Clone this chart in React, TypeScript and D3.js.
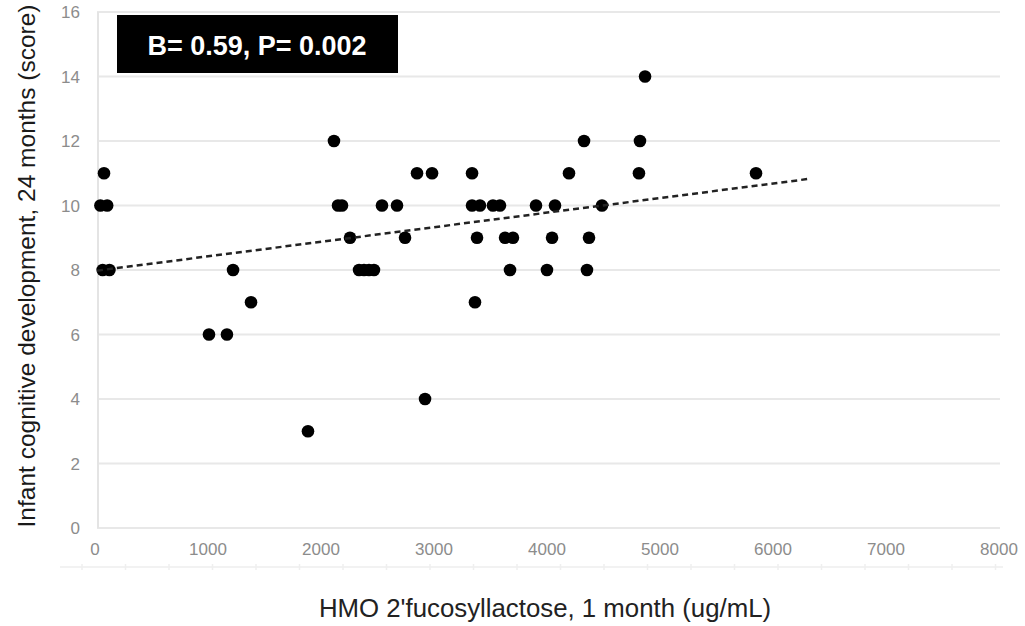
import React from "react";
import * as d3 from "d3";

const xValues = [62, 30, 90, 50, 110, 1204, 991, 1150, 1363, 1867, 2097, 2133, 2168, 2239, 2319, 2363, 2407, 2451, 2522, 2655, 2726, 2832, 2965, 2903, 3319, 3319, 3389, 3504, 3566, 3363, 3345, 3611, 3681, 3655, 3885, 3982, 4027, 4053, 4177, 4310, 4336, 4354, 4469, 4805, 4796, 4850, 5832];
const yValues = [11, 10, 10, 8, 8, 8, 6, 6, 7, 3, 12, 10, 10, 9, 8, 8, 8, 8, 10, 10, 9, 11, 11, 4, 11, 10, 10, 10, 10, 9, 7, 9, 9, 8, 10, 8, 9, 10, 11, 12, 8, 9, 10, 12, 11, 14, 11];
const xTicks = [0, 1000, 2000, 3000, 4000, 5000, 6000, 7000, 8000];
const yTicks = [0, 2, 4, 6, 8, 10, 12, 14, 16];
const trendX = [0, 6310];
const trendY = [7.98, 10.83];
const annotation = "B= 0.59, P= 0.002";
const xTitle = "HMO 2'fucosyllactose, 1 month (ug/mL)";
const yTitle = "Infant cognitive development, 24 months (score)";

const W = 1025;
const H = 626;
const FONT = "'Liberation Sans', Arial, sans-serif";

export default function App() {
  const x = d3.scaleLinear().domain([0, 8000]).range([97, 1001]);
  const y = d3.scaleLinear().domain([0, 16]).range([528, 12]);
  const line = d3
    .line<number>()
    .x((d) => x(trendX[d]))
    .y((d) => y(trendY[d]));
  const baseTicks = d3.range(82, 1004, 43.5);

  return (
    <svg
      width={W}
      height={H}
      style={{ position: "absolute", left: 0, top: 0, background: "#fff" }}
      fontFamily={FONT}
    >
      <rect x={0} y={0} width={W} height={H} fill="#fff" />
      {yTicks.map((t) => (
        <line key={"g" + t} x1={x(0)} x2={1000} y1={y(t)} y2={y(t)} stroke="#e8e8e8" strokeWidth={2} />
      ))}
      <line x1={x(0) + 1} x2={x(0) + 1} y1={y(16)} y2={y(0)} stroke="#e4e4e4" strokeWidth={2} />
      <line x1={60} x2={1003} y1={567} y2={567} stroke="#eeeeee" strokeWidth={1.5} />
      {baseTicks.map((t, i) => (
        <line key={"bt" + i} x1={t} x2={t} y1={564} y2={570} stroke="#efefef" strokeWidth={1.5} />
      ))}
      {yTicks.map((t) => (
        <text key={"yl" + t} x={80} y={y(t) + 6} textAnchor="end" fontSize={17} fill="#8c8c8c">
          {t}
        </text>
      ))}
      {xTicks.map((t) => (
        <text key={"xl" + t} x={x(t) - 2} y={555} textAnchor="middle" fontSize={17} fill="#8c8c8c">
          {t}
        </text>
      ))}
      {xValues.map((v, i) => (
        <circle key={"p" + i} cx={x(v)} cy={y(yValues[i])} r={6.3} fill="#000" />
      ))}
      <path d={line([0, 1]) || ""} fill="none" stroke="#222" strokeWidth={2.5} strokeDasharray="6 4" />
      <rect x={117} y={15} width={281} height={58} fill="#000" />
      <text x={257} y={55} textAnchor="middle" fontSize={27} fontWeight="bold" fill="#fff">
        {annotation}
      </text>
      <text x={545} y={617} textAnchor="middle" fontSize={25.8} fill="#222">
        {xTitle}
      </text>
      <text
        transform={`translate(35,266) rotate(-90)`}
        textAnchor="middle"
        fontSize={24.5}
        fill="#1a1a1a"
      >
        {yTitle}
      </text>
    </svg>
  );
}
